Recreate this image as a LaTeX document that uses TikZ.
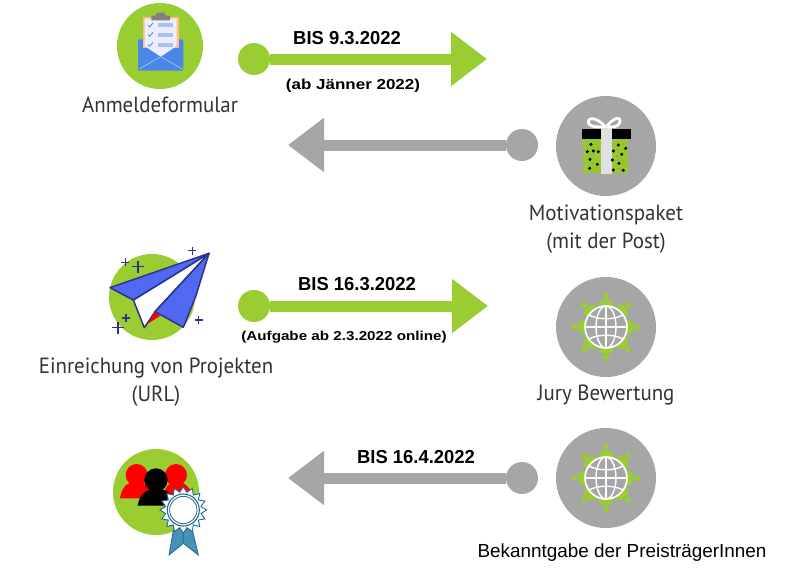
\documentclass[tikz,border=0pt]{standalone}
\usepackage{fontspec}
\setmainfont{Liberation Sans}
\newfontfamily\labelfont{PT Sans}
\usetikzlibrary{arrows.meta}
\definecolor{grn}{RGB}{154,205,50}
\definecolor{gry}{RGB}{166,166,166}
\definecolor{navy2}{RGB}{45,50,140}
\definecolor{wingblue}{RGB}{80,105,240}
\definecolor{envblue}{RGB}{75,135,230}
\definecolor{lightblue}{RGB}{165,195,240}
\definecolor{ribbon}{RGB}{70,145,180}
\definecolor{ribbond}{RGB}{35,105,150}
\definecolor{giftgreen}{RGB}{150,200,50}
\tikzset{
  x=1pt,y=-1pt,
  bigdisc/.style={circle,inner sep=0pt,minimum size=#1},
  dotg/.style={circle,fill=grn,inner sep=0pt,minimum size=32pt},
  dotk/.style={circle,fill=gry,inner sep=0pt,minimum size=32pt},
  arrg/.style={draw=grn,line width=11pt,-{Triangle[length=36pt,width=52pt,fill=grn]}},
  arrk/.style={draw=gry,line width=11pt,-{Triangle[length=36pt,width=52pt,fill=gry]}},
  lab/.style={font=\labelfont\fontsize{22}{28}\selectfont,text=black!80,inner sep=0pt,align=center,xscale=0.95},
  bold19/.style={font=\bfseries\fontsize{18.8}{22}\selectfont,inner sep=0pt,xscale=0.98},
  bold17/.style={font=\bfseries\fontsize{17}{20}\selectfont,inner sep=0pt,yscale=0.85},
  bold15/.style={font=\bfseries\fontsize{15.2}{18}\selectfont,inner sep=0pt,yscale=0.85},
  plain18/.style={font=\fontsize{18.9}{22}\selectfont,inner sep=0pt},
  plane/.style={draw=navy2,line width=1.5pt,line join=round},
  plus/.style={draw=navy2,line width=1.4pt},
  globe/.pic={
    \foreach \a in {0,45,...,315}{
      \fill[grn,rotate=\a] (0,-31) circle (3);
      \fill[grn,rotate=\a] (-7,-20) -- (-7,-23) .. controls (-7,-29) and (7,-29) .. (7,-23) -- (7,-20) -- cycle;
    }
    \draw[white,line width=1.7pt,fill=gry] (0,0) circle (21);
    \draw[white,line width=1.4pt] (0,0) ellipse (10 and 21);
    \draw[white,line width=1.4pt] (0,-21) -- (0,21) (-21,0) -- (21,0);
    \draw[white,line width=1.4pt] (-17,-12) .. controls (-8,-7) and (8,-7) .. (17,-12);
    \draw[white,line width=1.4pt] (-17,12) .. controls (-8,7) and (8,7) .. (17,12);
  }
}
\begin{document}
\begin{tikzpicture}
\useasboundingbox (0,0) rectangle (811,573);
% discs
\node[bigdisc=86pt,fill=grn] (form) at (160,46) {};
\node[bigdisc=100pt,fill=gry] (gift) at (606,146) {};
\node[bigdisc=86pt,fill=grn] (plane) at (152,297) {};
\node[bigdisc=100pt,fill=gry] (jury) at (606,327) {};
\node[bigdisc=100pt,fill=gry] (winners) at (606,478) {};
\node[bigdisc=86pt,fill=grn] (award) at (156,492) {};
% form icon
\begin{scope}[shift={(80,0)},scale=1/3]
  \fill[envblue,rounded corners=1pt] (174,118) -- (310,118) -- (310,212) -- (174,212) -- cycle;
  \fill[orange!50] (188,50) -- (296,50) -- (296,145) -- (188,145) -- cycle;
  \fill[white!93!blue] (194,56) -- (290,56) -- (290,138) -- (242,170) -- (194,138) -- cycle;
  \fill[gray] (214,47) -- (226,47) -- (232,38) -- (252,38) -- (258,47) -- (270,47) -- (270,61) -- (214,61) -- cycle;
  \foreach \y in {76,104,134}{
    \fill[lightblue] (235,\y-6) rectangle (280,\y+6);
    \draw[envblue,line width=.8pt] (204,\y) -- (209,\y+5) -- (219,\y-7);
  }
  \draw[white!75!envblue,line width=.4pt] (176,208) -- (242,170) -- (308,208);
\end{scope}
% gift icon
\begin{scope}[shift={(540,90)},scale=1/3]
  \fill[giftgreen] (130,145) rectangle (265,248);
  \fill[black] (126,116) -- (272,116) -- (272,148) -- (126,148) -- cycle;
  \fill[white!88!black] (182,112) rectangle (216,252);
  \draw[white,line width=2.8pt,fill=gry] (196,110) .. controls (170,80) and (140,80) .. (146,100) .. controls (150,112) and (180,112) .. (196,110);
  \draw[white,line width=2.8pt,fill=gry] (200,110) .. controls (220,80) and (248,78) .. (238,100) .. controls (232,112) and (215,112) .. (200,110);
  \foreach \p in {(153,163),(142,185),(160,183),(175,185),(150,208),(172,223),(149,235),(235,165),(257,175),(245,193),(220,183),(237,220),(220,240),(250,241),(217,210)}
    \fill[black] \p circle (5.2);
  \foreach \p in {(140,168),(170,166),(158,222),(174,241),(250,162),(232,180),(252,212),(236,236),(230,198)}
    \fill[orange!90!red] \p circle (2.6);
\end{scope}
% plane icon
\begin{scope}[shift={(95,240)},scale=1/3]
  \draw[plane,fill=white] (342,40) -- (115,180) -- (148,263) -- (180,215) -- cycle;
  \draw[plane,fill=wingblue] (342,40) -- (45,143) -- (115,180) -- cycle;
  \fill[red] (180,215) -- (195,228) -- (160,250) -- cycle;
  \draw[plane,fill=wingblue] (342,40) -- (180,215) -- (265,262) -- (302,170) -- cycle;
  \foreach \x/\y/\r in {292/32/12,91/67/12,129/80/18,93/234/12,69/263/18,311/240/12}
    \draw[plus] (\x-\r,\y) -- (\x+\r,\y) (\x,\y-\r) -- (\x,\y+\r);
\end{scope}
% globes
\pic at (jury) {globe};
\pic at (winners) {globe};
% award icon
\begin{scope}[shift={(100,435)},scale=1/3]
  \fill[red] (110,120) circle (33);
  \fill[red] (228,120) circle (33);
  \fill[red] (60,190) .. controls (65,150) and (90,140) .. (110,140) .. controls (135,140) and (150,160) .. (160,190) -- cycle;
  \fill[red] (190,190) .. controls (195,150) and (210,140) .. (228,140) .. controls (250,140) and (265,150) .. (275,175) -- (275,190) -- cycle;
  \fill[black] (168,135) circle (35);
  \fill[black] (113,212) .. controls (118,175) and (145,160) .. (168,160) .. controls (195,160) and (220,175) .. (225,212) -- cycle;
  \draw[ribbond,line width=.8pt,fill=ribbon] (222,275) -- (207,360) -- (250,325) -- (250,285) -- cycle;
  \draw[ribbond,line width=.8pt,fill=ribbon] (250,285) -- (250,325) -- (295,360) -- (275,275) -- cycle;
  \draw[ribbond,line width=.9pt,fill=white]
    (320,225)
    \foreach \i in {1,...,31}{
      -- ({250+(mod(\i,2)==1 ? 54 : 70)*cos(\i*11.25)},{225+(mod(\i,2)==1 ? 54 : 70)*sin(\i*11.25)})
    } -- cycle;
  \draw[ribbond,line width=1.1pt] (250,225) circle (48);
  \draw[ribbond,line width=.8pt] (250,225) circle (41);
\end{scope}
% small dots and targets
\node[dotg] (d1) at (254,59) {};
\coordinate (t1) at (487,59);
\node[dotk] (d2) at (522,145) {};
\coordinate (t2) at (288,145);
\node[dotg] (d3) at (254,306) {};
\coordinate (t3) at (488,306);
\node[dotk] (d4) at (522,478) {};
\coordinate (t4) at (288,478);
\draw[arrg] (d1) -- (t1);
\draw[arrk] (d2) -- (t2);
\draw[arrg] (d3) -- (t3);
\draw[arrk] (d4) -- (t4);
% labels
\node[lab] (l1) at (160,105) {Anmeldeformular};
\node[lab] (l2) at (606,229) {Motivationspaket\\(mit der Post)};
\node[lab] (l3) at (156,382) {Einreichung von Projekten\\(URL)};
\node[lab] (l4) at (606,395) {Jury Bewertung};
\node[plain18] (l5) at (622,553) {Bekanntgabe der PreisträgerInnen};
\node[bold19] (a1) at (347,38) {BIS 9.3.2022};
\node[bold17] (a2) at (353,86) {(ab Jänner 2022)};
\node[bold19] (a3) at (357,284) {BIS 16.3.2022};
\node[bold15] (a4) at (344,337) {(Aufgabe ab 2.3.2022 online)};
\node[bold19] (a5) at (416,457) {BIS 16.4.2022};
\end{tikzpicture}
\end{document}
